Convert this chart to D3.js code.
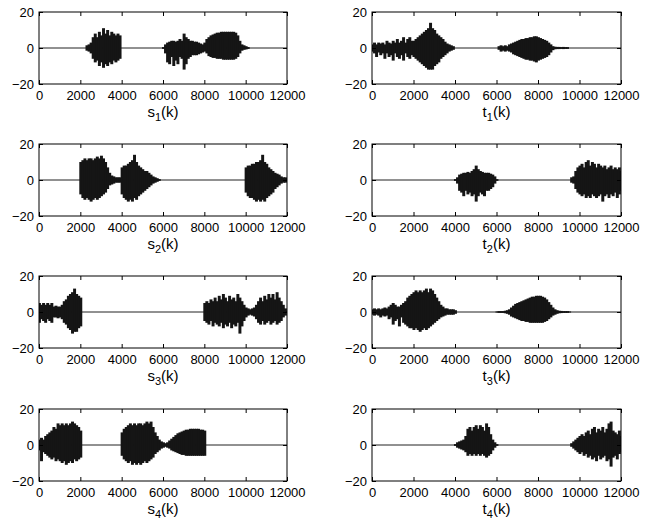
<!DOCTYPE html>
<html>
<head>
<meta charset="utf-8">
<script src="https://cdn.jsdelivr.net/npm/d3@7"></script>
<style>
  body { margin: 0; background: #fff; }
  text { font-family: "Liberation Sans", Arial, Helvetica, sans-serif; }
</style>
</head>
<body>
<div id="chart"></div>
<script>
// envelope of each signal, read every 100 samples (upper / lower value)
var kStep = 100;
var xTicks = [0, 2000, 4000, 6000, 8000, 10000, 12000];
var yTicks = [-20, 0, 20];

var s1Start = [2300, 6000, 8000];
var s1Hi = [
    [1.5,2,3,6,8,6,9,7,11,8,10,7,9,8,7,8,7],
    [0.5,2,3,3.5,4,4,3.5,4,5,4,8,6,5,4,4,3.5,3.5,3,2.5,2],
    [3,5,6,7,7.5,8,8.5,8.5,9,9,9,9,9,9,9,8.5,7,4,2,1.5,1,0.5]
];
var s1Lo = [
    [-1.5,-2,-3,-6,-8,-7,-10,-8,-11,-9,-10,-8,-9,-7,-8,-7,-6],
    [-0.5,-3,-8,-9,-5,-10,-7,-9,-5,-6,-12,-9,-6,-5,-4,-4,-4,-3.5,-3,-2.5],
    [-2,-3,-4.5,-5,-5.5,-5.5,-6,-6,-6,-6.5,-6.5,-6.5,-6.5,-6.5,-6.5,-6,-5,-3,-1.5,-1,-0.8,-0.5]
];

var t1Start = [0, 6100];
var t1Hi = [
    [2,3,2,3,2.5,3,2,4,3,2.5, 4,3,5,3,4,6,3,5,6,4, 4,5,6,7,8,9,10,11,14,11, 10,8,7,6,5,3.5,2.5,2,1.5,1],
    [1,1.5,1,1.5,1,2,2.5,3,3.5,4, 4.5,5,5,5.5,5.5,6,6,6.5,6.5,6, 5.5,5,4.5,4,3,2,1,0.7,0.6,0.6, 0.5,0.6,0.5,0.5]
];
var t1Lo = [
    [-2,-3,-5,-2.5,-4,-3,-6,-3,-5,-4, -7,-3,-5,-6,-4,-7,-3,-5,-6,-4, -5,-6,-7,-8,-9,-10,-11,-12,-12,-12, -10,-9,-8,-6,-5,-4,-3,-2,-1.5,-1],
    [-1,-2,-1.5,-2,-1.5,-2,-2.5,-3.5,-4,-4.5, -5,-5.5,-6,-6.5,-6.5,-7,-7,-7.5,-8,-7, -6.5,-6,-5.5,-5,-4,-2.5,-1.2,-0.7,-0.6,-0.6, -0.5,-0.6,-0.5,-0.5]
];

var s2Start = [2000, 10000];
var s2Hi = [
    [10,11,12,11,12,12,11,12,13,12, 13.5,12,10,7,4,2.5,2,1.5,1.5,1.5, 7,8,8,9,10,11,14,10,8,7, 6,5,5,4,3,2,1.5,1,0.5],
    [7,8,8,9,9,10,10,11,14,10, 9,7,6,5,4,3.5,3,2,1.5,1.5, 1]
];
var s2Lo = [
    [-8,-10,-11,-10,-11,-12,-11,-10,-11,-10, -9,-8,-7,-5,-3,-2.5,-2,-1.5,-1.5,-1.5, -8,-10,-11,-12,-11,-12,-10,-11,-9,-8, -7,-6,-5,-4,-3,-2,-1.5,-1,-0.5],
    [-7,-9,-10,-10,-11,-12,-11,-12,-11,-12, -10,-9,-8,-7,-5,-4,-3,-2,-1.5,-1.5, -1]
];

var t2Start = [4000, 9600];
var t2Hi = [
    [0.5,1.5,3,3.5,4,4,4.5,4,5,6, 8,6,5,4.5,4,4,4,3.5,3,2, 0.5],
    [1.5,2,5,7,8,9,7,10,11,8, 10,9,7,9,8,7,8,6,7,8, 6,7,6,7,5]
];
var t2Lo = [
    [-0.5,-2,-6,-7,-9,-6,-8,-7,-9,-8, -12,-9,-7,-8,-9,-6,-6,-5,-4,-2, -0.5],
    [-1.5,-2,-5,-7,-8,-9,-8,-10,-9,-10, -8,-9,-10,-9,-8,-12,-9,-8,-10,-8, -9,-7,-10,-8,-6]
];

var s3Start = [0, 8000];
var s3Hi = [
    [5,4,5,4,5,4,5,3,3.5,3, 3,4,6,7,9,10,11,13,10,9, 8],
    [5,6,5,7,6,8,6,9,7,10, 8,6,9,7,8,6,10,8,6,4, 2.5,2,1.5,2,2.5,4,6,8,6,9, 7,10,8,10,7,11,8,6,4,2, 0.5]
];
var s3Lo = [
    [-6,-4,-5,-6,-4,-5,-6,-3,-3,-3.5, -3,-4,-6,-7,-9,-10,-12,-11,-11,-9, -8],
    [-5,-6,-7,-5,-8,-6,-7,-8,-6,-9, -7,-8,-6,-9,-7,-8,-6,-12,-8,-5, -3,-2,-1.5,-2,-2.5,-4,-6,-7,-5,-7, -6,-5,-7,-6,-5,-7,-6,-5,-3,-2, -0.5]
];

var t3Start = [0, 6000];
var t3Hi = [
    [1.5,2,1.5,2,1.5,2,2.5,2,3,4, 5,4,3,3,4,5,6,8,9,10, 11,12,11,12,11,12,13,11,13,12, 10,8,6,4,3,2,2,1.5,1.5,1.5, 1],
    [0.3,0.5,0.5,0.5,0.7,1,1.5,2.5,3.5,4.5, 5,5.5,6,6.5,7,7.5,8,8.5,8.5,9, 9,9,8.5,8,7,5.5,4,2.5,1.5,1, 0.7,0.6,0.5,0.5,0.5,0.3]
];
var t3Lo = [
    [-1.5,-2,-1.5,-2,-3,-2,-2.5,-2,-4,-3, -7,-5,-4,-8,-3,-6,-7,-8,-9,-9, -10,-9,-10,-11,-10,-9,-10,-9,-8,-7, -6,-5,-4,-3,-2.5,-2,-1.5,-1.5,-1.5,-1.5, -1],
    [-0.3,-0.5,-0.5,-0.5,-0.7,-1,-1.5,-2.5,-3,-3.5, -4,-4.5,-5,-5,-5.5,-5.5,-6,-6,-6,-6, -6,-6,-6,-5.5,-5,-4,-3,-2,-1.5,-1, -0.7,-0.6,-0.5,-0.5,-0.5,-0.3]
];

var s4Start = [0, 4000];
var s4Hi = [
    [3,4,3,5,6,7,8,10,9,12, 11,12,11,12,11,12,13,12,11,10, 8],
    [7,9,10,11,12,11,12,11,12,12, 11,12,13,12,13,10,7,5,3,2, 1.5,1,1.5,2.5,3.5,4.5,5.5,6.5,7,7.5, 8,8.5,8.5,9,9,9,9,9,8.5,8.5, 8]
];
var s4Lo = [
    [-3,-9,-4,-5,-6,-7,-8,-7,-9,-8, -9,-10,-9,-11,-10,-9,-10,-8,-9,-8, -7],
    [-6,-8,-9,-10,-9,-11,-10,-11,-10,-11, -10,-9,-10,-9,-8,-7,-5,-4,-3,-2, -1.5,-1,-1.5,-2,-3,-3.5,-4,-4.5,-5,-5.5, -5.5,-6,-6,-6,-6,-6,-6,-6,-6,-6, -6]
];

var t4Start = [4000, 9600];
var t4Hi = [
    [0.5,1.5,2,2.5,3,5,9,10,8,10, 11,9,11,10,8,12,10,6,3,1.5, 0.5],
    [1,2,3,4,5,6,5,7,8,6, 9,10,7,9,8,10,7,9,12,13, 8,7,6,8,5]
];
var t4Lo = [
    [-0.5,-1.5,-2,-2.5,-3,-4,-6,-5,-6,-5, -6,-5,-6,-5,-6,-7,-6,-5,-3,-1.5, -0.5],
    [-1,-2,-3,-4,-5,-4,-6,-5,-7,-6, -8,-7,-9,-6,-8,-7,-6,-9,-8,-12, -7,-6,-8,-5,-4]
];

function init()
{
    const width = 650;
    const height = 523;

    var panels = [
        {name: "s", sub: "1", start: s1Start, hi: s1Hi, lo: s1Lo, col: 0, row: 0},
        {name: "t", sub: "1", start: t1Start, hi: t1Hi, lo: t1Lo, col: 1, row: 0},
        {name: "s", sub: "2", start: s2Start, hi: s2Hi, lo: s2Lo, col: 0, row: 1},
        {name: "t", sub: "2", start: t2Start, hi: t2Hi, lo: t2Lo, col: 1, row: 1},
        {name: "s", sub: "3", start: s3Start, hi: s3Hi, lo: s3Lo, col: 0, row: 2},
        {name: "t", sub: "3", start: t3Start, hi: t3Hi, lo: t3Lo, col: 1, row: 2},
        {name: "s", sub: "4", start: s4Start, hi: s4Hi, lo: s4Lo, col: 0, row: 3},
        {name: "t", sub: "4", start: t4Start, hi: t4Hi, lo: t4Lo, col: 1, row: 3}
    ];

    var colX = [39, 372];
    var colW = [248, 249];
    var rowY = [12, 144, 276, 409];
    var plotH = 72;
    var fmt = d3.format("d");

    var svg = d3.select("#chart")
        .append("svg")
        .attr("width", width)
        .attr("height", height);

    panels.forEach(function (p, pi) {
        var w = colW[p.col];
        var x = d3.scaleLinear().domain([0, 12000]).range([0, w]);
        var y = d3.scaleLinear().domain([-20, 20]).range([plotH, 0]);

        var g = svg.append("g")
            .attr("transform", "translate(" + colX[p.col] + "," + rowY[p.row] + ")");

        g.append("clipPath")
            .attr("id", "clip" + pi)
            .append("rect")
            .attr("width", w)
            .attr("height", plotH);

        var plot = g.append("g").attr("clip-path", "url(#clip" + pi + ")");

        // baseline of the signal
        plot.append("line")
            .attr("x1", x(0))
            .attr("x2", x(12000))
            .attr("y1", y(0))
            .attr("y2", y(0))
            .attr("stroke", "#222")
            .attr("stroke-width", 1);

        var pts = [];
        p.start.forEach(function (k0, b) {
            p.hi[b].forEach(function (v, i) {
                pts.push({k: k0 + i * kStep, hi: v, lo: p.lo[b][i]});
            });
        });

        var bw = x(kStep) - x(0);
        plot.selectAll("rect.env")
            .data(pts)
            .enter()
            .append("rect")
            .attr("class", "env")
            .attr("x", function (d) { return x(d.k) - bw / 2; })
            .attr("width", bw + 0.9)
            .attr("y", function (d) { return y(d.hi); })
            .attr("height", function (d) { return y(d.lo) - y(d.hi); })
            .attr("fill", "#151515");

        // axes, MATLAB style ticks pointing inwards
        g.append("g")
            .attr("transform", "translate(0," + plotH + ")")
            .call(d3.axisBottom(x).tickValues(xTicks).tickFormat(fmt).tickSize(-4).tickPadding(7));
        g.append("g")
            .call(d3.axisTop(x).tickValues(xTicks).tickSize(-4).tickFormat(""));
        g.append("g")
            .call(d3.axisLeft(y).tickValues(yTicks).tickFormat(fmt).tickSize(-4).tickPadding(5));
        g.append("g")
            .attr("transform", "translate(" + w + ",0)")
            .call(d3.axisRight(y).tickValues(yTicks).tickSize(-4).tickFormat(""));

        g.selectAll(".domain").remove();
        g.selectAll(".tick line").attr("stroke", "#000");
        g.selectAll(".tick text")
            .attr("fill", "#000")
            .style("font-size", "13px");

        g.append("rect")
            .attr("width", w)
            .attr("height", plotH)
            .attr("fill", "none")
            .attr("stroke", "#000")
            .attr("stroke-width", 1);

        var title = g.append("text")
            .attr("x", w / 2)
            .attr("y", plotH + 33)
            .attr("text-anchor", "middle")
            .style("font-size", "15px")
            .attr("fill", "#000");
        title.append("tspan").text(p.name);
        title.append("tspan").attr("dy", 4).style("font-size", "11px").text(p.sub);
        title.append("tspan").attr("dy", -4).text("(k)");
    });
}

init();
</script>
</body>
</html>
